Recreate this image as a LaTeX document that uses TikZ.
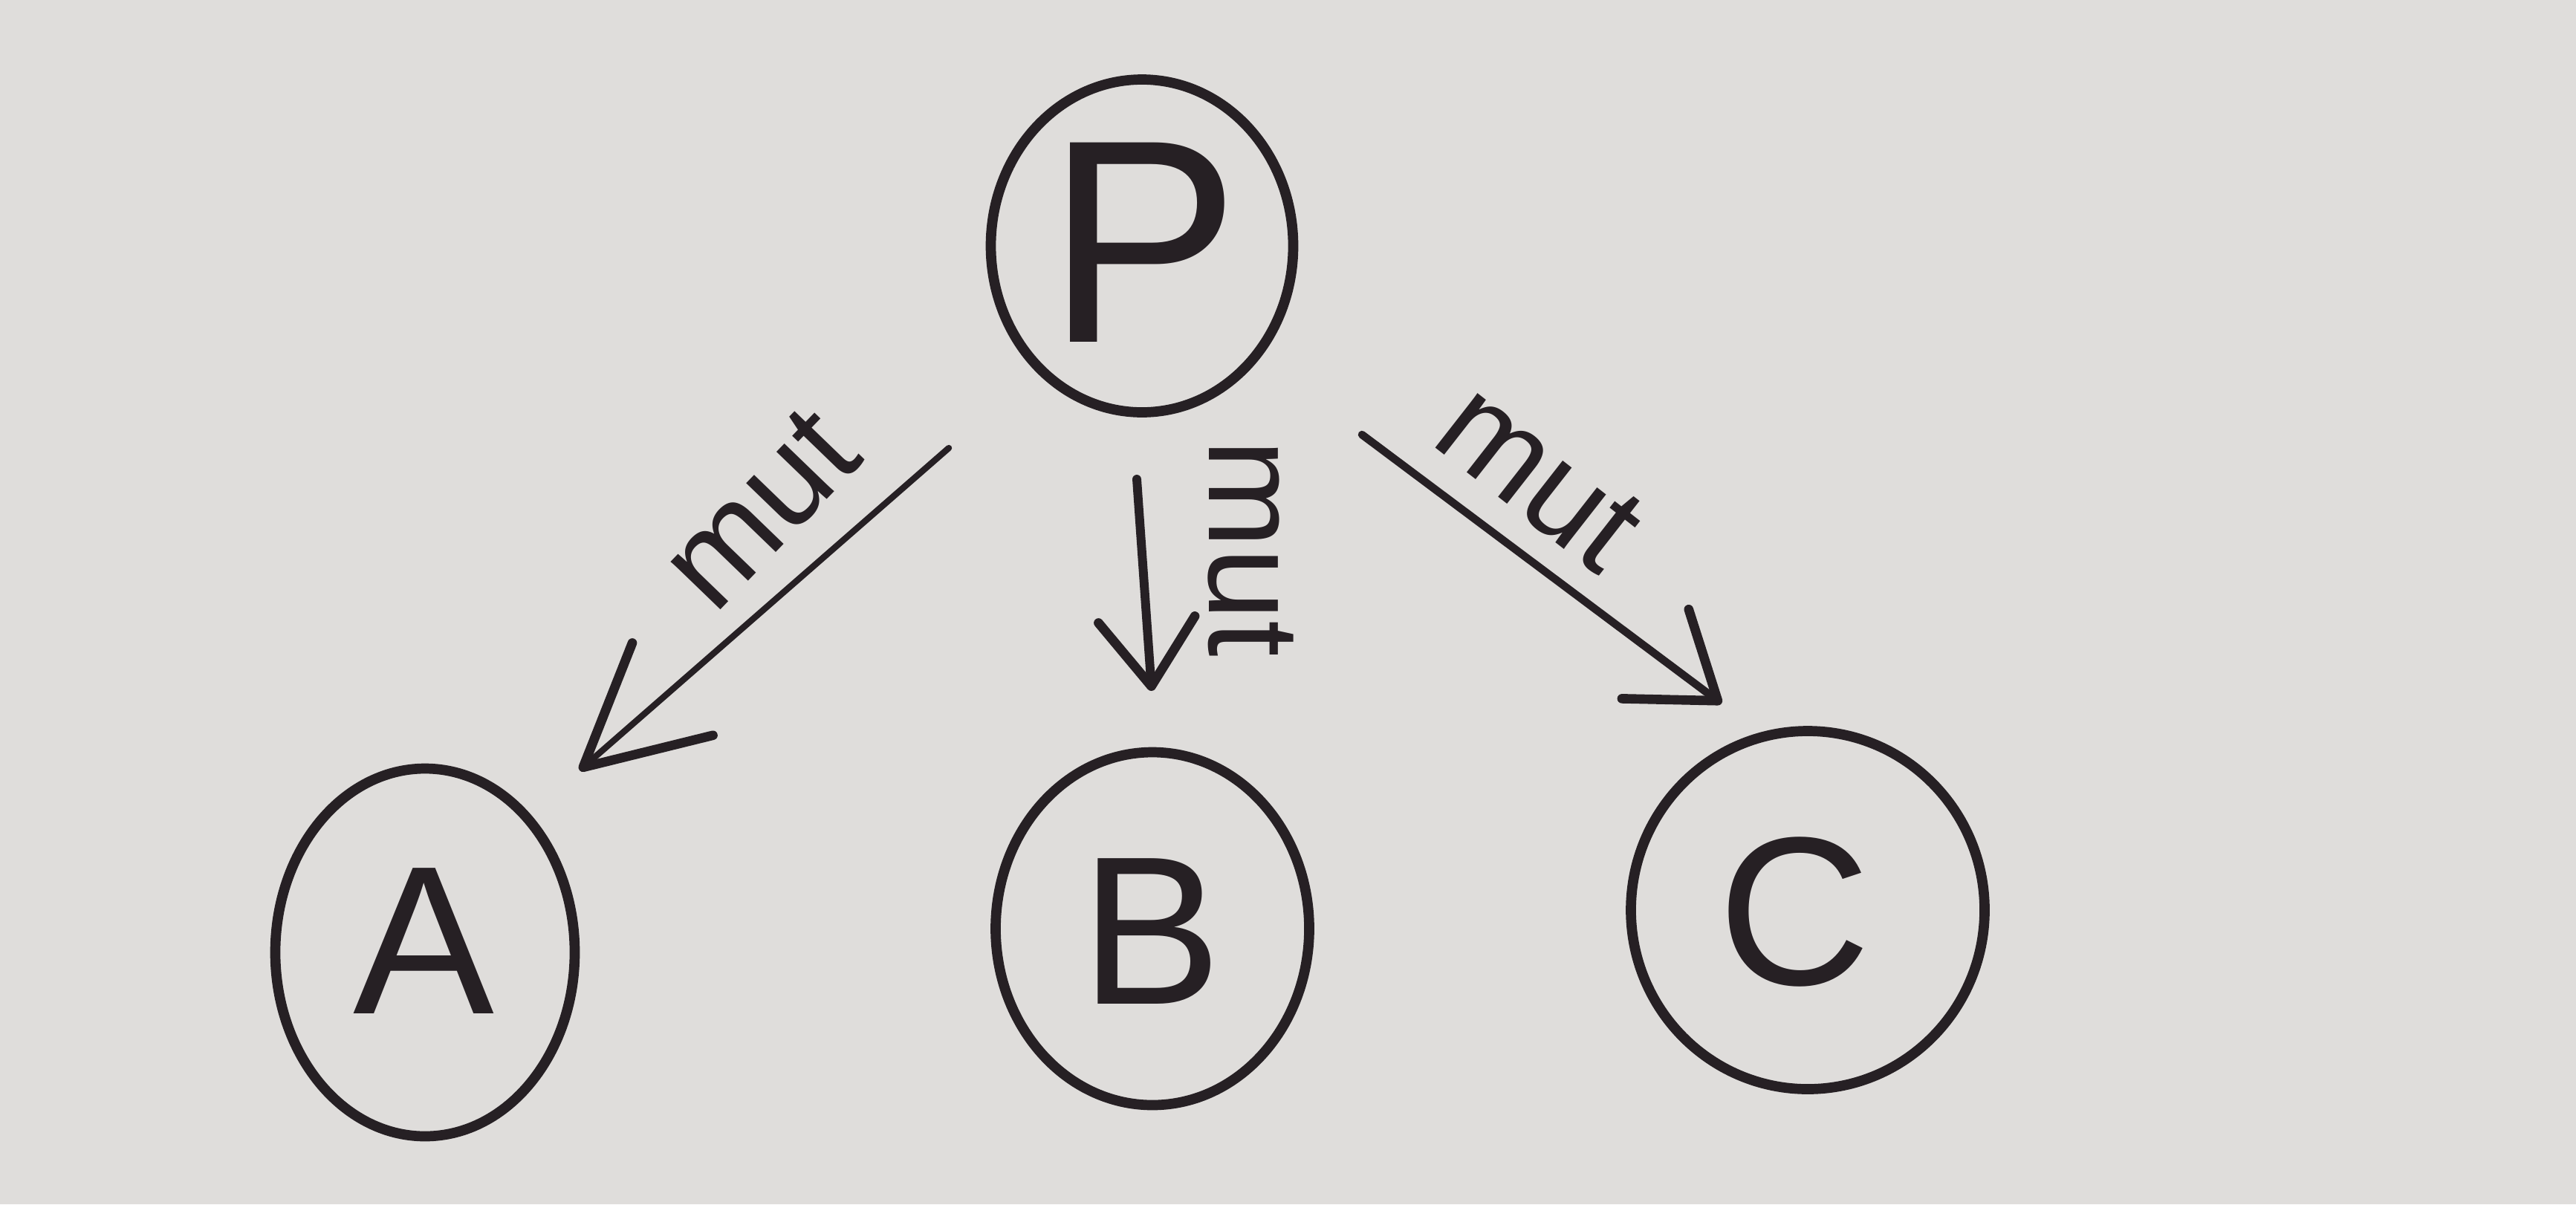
\documentclass[tikz,border=0pt]{standalone}
\usepackage{fontspec}
\setmainfont{Liberation Sans}
\usetikzlibrary{shapes.geometric,arrows.meta,calc}
\definecolor{paper}{RGB}{223,221,219}
\definecolor{ink}{RGB}{38,32,36}
\tikzset{
  vertex/.style={ellipse, draw=ink, line width=3.9pt, inner sep=0pt},
  letter/.style={text=ink, inner sep=0pt, font=\fontsize{81pt}{81pt}\selectfont},
  edgearrow/.style={draw=ink, line width=3pt, line cap=round, line join=round},
  edgelabel/.style={text=ink, inner sep=0pt, font=\fontsize{50pt}{50pt}\selectfont}
}
\begin{document}
\begin{tikzpicture}
\fill[paper] (0,0) rectangle (34.67,-16.21);
\useasboundingbox (0,0) rectangle (34.67,-16.21);

% circles
\node[vertex, minimum width=4.07cm, minimum height=4.48cm] (P) at (15.37,-3.31) {};
\node[vertex, minimum width=4.03cm, minimum height=4.95cm] (A) at (5.72,-12.82) {};
\node[vertex, minimum width=4.22cm, minimum height=4.75cm] (B) at (15.51,-12.50) {};
\node[vertex, minimum width=4.76cm, minimum height=4.82cm] (C) at (24.33,-12.25) {};

% letters
\node[letter, font=\fontsize{111pt}{111pt}\selectfont] (tP) at ($(P)+(0.02,0.05)$) {P};
\node[letter] (tA) at ($(A)+(-0.02,0.15)$) {A};
\node[letter] (tB) at ($(B)+(-0.02,-0.04)$) {B};
\node[letter] (tC) at ($(C)+(-0.18,-0.02)$) {C};

% connectors
\draw[edgearrow, line width=2.4pt,
      -{Straight Barb[length=1.6cm, width=1.65cm, line width=3.6pt, line cap=round, line join=round]}]
  ($(P)+(-2.60,-2.72)$) -- ($(A)+(2.08,2.45)$);
\draw[edgearrow, line width=3.4pt,
      -{Straight Barb[length=0.9cm, width=1.3cm, line width=3.6pt, line cap=round, line join=round]}]
  ($(P)+(-0.07,-3.14)$) -- ($(B)+(-0.01,3.20)$);
\draw[edgearrow, line width=3pt,
      -{Straight Barb[length=1.05cm, width=1.5cm, line width=3.6pt, line cap=round, line join=round]}]
  ($(P)+(2.96,-2.54)$) -- ($(C)+(-1.16,2.78)$);

% labels
\node[edgelabel, rotate=46] (lA) at (10.23,-6.85) {mut};
\node[edgelabel, rotate=-90] (lB) at (16.83,-7.38) {mut};
\node[edgelabel, rotate=-38] (lC) at (20.72,-6.42) {mut};
\end{tikzpicture}
\end{document}
